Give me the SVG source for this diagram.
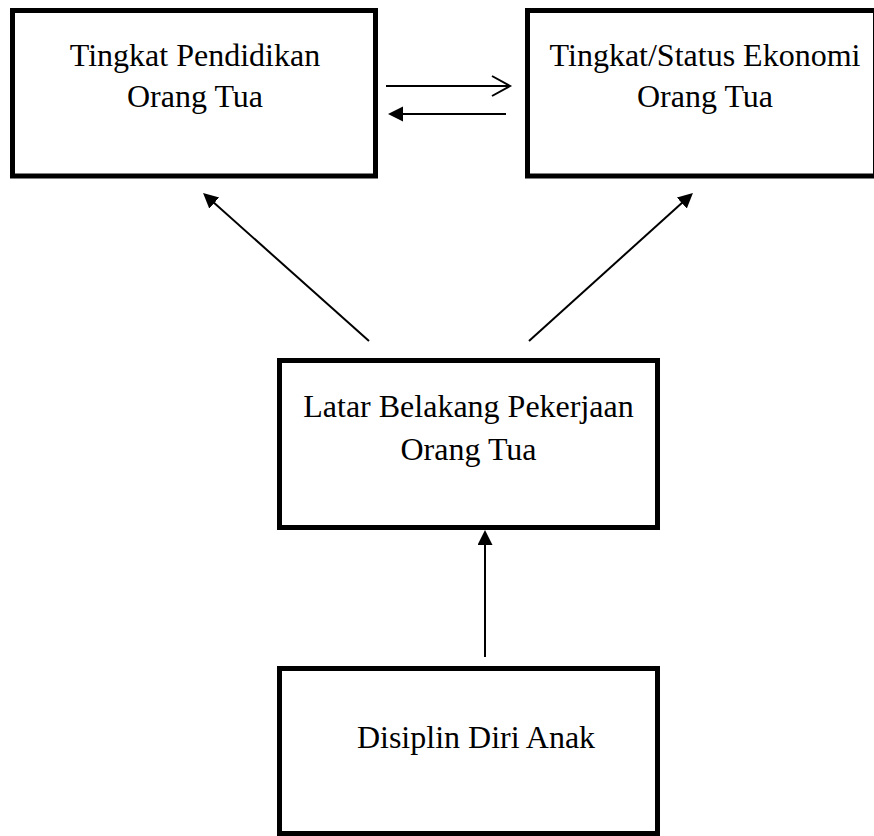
<svg xmlns="http://www.w3.org/2000/svg" width="874" height="836" viewBox="0 0 874 836">
  <style>
    .box { fill: #ffffff; stroke: #000000; stroke-width: 5; }
    .lbl { font-family: "Liberation Serif", "Times New Roman", serif; font-size: 32px; fill: #000000; text-anchor: middle; }
    .conn { stroke: #000000; stroke-width: 2; fill: none; }
  </style>
  <defs>
    <marker id="solid" markerUnits="userSpaceOnUse" markerWidth="16" markerHeight="16" refX="12" refY="7.5" orient="auto">
      <path d="M0,0 L15,7.5 L0,15 z" fill="#000000"/>
    </marker>
    <marker id="open" markerUnits="userSpaceOnUse" markerWidth="24" markerHeight="24" refX="19" refY="11" orient="auto">
      <path d="M1,1 L19,11 L1,21" fill="none" stroke="#000000" stroke-width="2"/>
    </marker>
  </defs>
  <rect x="0" y="0" width="874" height="836" fill="#ffffff"/>

  <g id="node-pendidikan">
    <rect class="box" x="12.5" y="10.5" width="363" height="165.5"/>
    <text class="lbl" x="195" y="66">Tingkat Pendidikan</text>
    <text class="lbl" x="195" y="107">Orang Tua</text>
  </g>

  <g id="node-ekonomi">
    <rect class="box" x="527.5" y="10.5" width="348" height="165.5"/>
    <text class="lbl" x="705" y="66">Tingkat/Status Ekonomi</text>
    <text class="lbl" x="705" y="107">Orang Tua</text>
  </g>

  <g id="node-pekerjaan">
    <rect class="box" x="279.5" y="360.5" width="378" height="167"/>
    <text class="lbl" x="468.5" y="417">Latar Belakang Pekerjaan</text>
    <text class="lbl" x="468.5" y="460">Orang Tua</text>
  </g>

  <g id="node-disiplin">
    <rect class="box" x="279.5" y="668.5" width="378" height="165"/>
    <text class="lbl" x="476" y="748">Disiplin Diri Anak</text>
  </g>

  <g id="connectors">
    <line class="conn" x1="386" y1="86" x2="510" y2="86" marker-end="url(#open)"/>
    <line class="conn" x1="506" y1="114" x2="391" y2="114" marker-end="url(#solid)"/>
    <line class="conn" x1="369" y1="341" x2="205.3" y2="195" marker-end="url(#solid)"/>
    <line class="conn" x1="529" y1="341" x2="690.7" y2="195" marker-end="url(#solid)"/>
    <line class="conn" x1="485" y1="657" x2="485" y2="533" marker-end="url(#solid)"/>
  </g>
</svg>
